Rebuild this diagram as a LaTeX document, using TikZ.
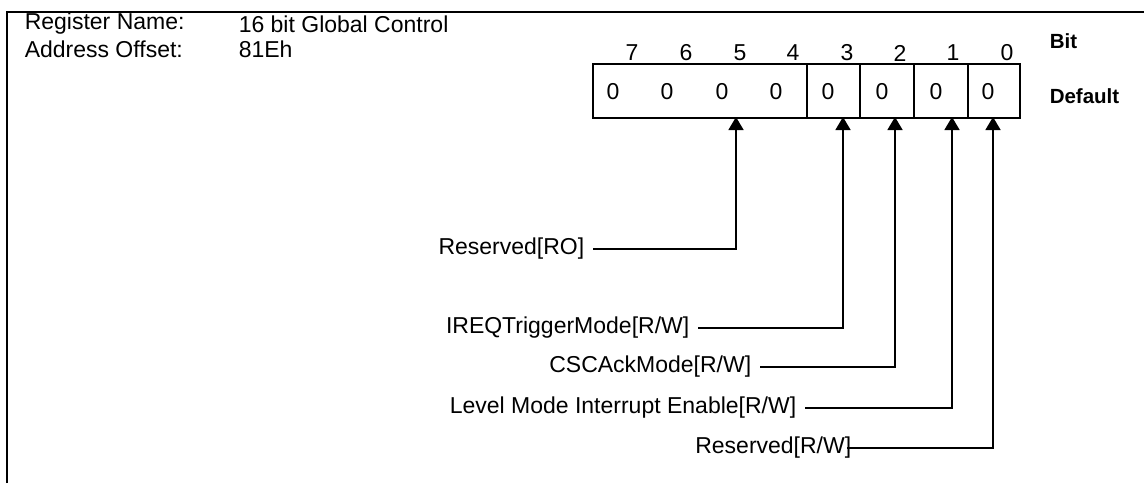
\documentclass[tikz,border=0pt]{standalone}
\usepackage{fontspec}
\setmainfont{Liberation Sans}
\usetikzlibrary{arrows.meta}
\begin{document}
\begin{tikzpicture}[x=1pt,y=-1pt,line width=1.5pt,
  txt/.style={font=\fontsize{23}{26}\selectfont,inner sep=0pt},
  hdr/.style={txt,anchor=west},
  boldtxt/.style={txt,font=\fontsize{20.5}{24}\selectfont\bfseries,anchor=west},
  lbl/.style={txt,anchor=east},
  conn/.style={-{Triangle[length=13pt,width=15pt]},line width=1.5pt},
  field/.style={draw,minimum height=54pt,inner sep=0pt,anchor=north west}]
\useasboundingbox (0,0) rectangle (1144,483);
% frame
\draw (7,483) -- (7,12) -- (1144,12);
% header
\node[hdr] (rn) at (24,24) {Register Name:};
\node[hdr] (rv) at (238,24) {16 bit Global Control};
\node[hdr] (ao) at (24,49) {Address Offset:};
\node[hdr] (av) at (238,49) {81Eh};
% register fields
\node[field,minimum width=214pt] (f74) at (592,63) {};
\node[field,minimum width=53pt] (f3) at (806,63) {};
\node[field,minimum width=54pt] (f2) at (859,63) {};
\node[field,minimum width=54pt] (f1) at (913,63) {};
\node[field,minimum width=52pt] (f0) at (967,63) {};
% bit numbers
\foreach \x/\b in {632/7,686/6,740/5,793/4,847/3,900/2,953/1,1007/0}
  \node[txt] (b\b) at (\x,53) {\b};
% defaults
\foreach \x/\b in {613/7,667/6,722/5,776/4,828/3,882/2,936/1,988/0}
  \node[txt] (d\b) at (\x,92) {0};
\node[boldtxt] (bitlbl) at (1049,41) {Bit};
\node[boldtxt] (deflbl) at (1049,96) {Default};
% arrow tips
\coordinate (t74) at (736,117);
\coordinate (t3) at (843,117);
\coordinate (t2) at (895,117);
\coordinate (t1) at (952,117);
\coordinate (t0) at (993,117);
% labels
\node[lbl] (l74) at (585,249) {Reserved[RO]};
\node[lbl] (l3) at (690,328) {IREQTriggerMode[R/W]};
\node[lbl] (l2) at (752,367) {CSCAckMode[R/W]};
\node[lbl] (l1) at (797,408) {Level Mode Interrupt Enable[R/W]};
\node[lbl] (l0) at (852,448) {Reserved[R/W]};
% connectors
\draw[conn] ([xshift=8pt]l74.east) -| (t74);
\draw[conn] ([xshift=8pt]l3.east) -| (t3);
\draw[conn] ([xshift=8pt]l2.east) -| (t2);
\draw[conn] ([xshift=8pt]l1.east) -| (t1);
\draw[conn] ([xshift=-5pt]l0.east) -| (t0);
\end{tikzpicture}
\end{document}
